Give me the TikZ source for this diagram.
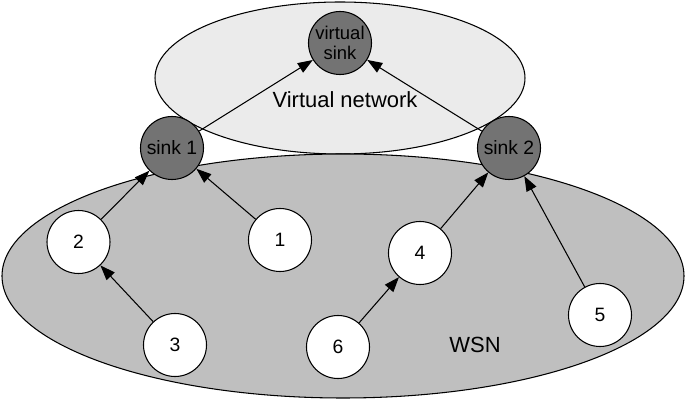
\documentclass[tikz,border=0pt]{standalone}
\usepackage{fontspec}
\setmainfont{Liberation Sans}
\usetikzlibrary{arrows.meta}
\begin{document}
\begin{tikzpicture}[line width=0.6pt,
    sensor/.style={circle,draw,fill=white,minimum size=1.26cm,inner sep=0pt,font=\fontsize{11}{12}\selectfont},
    sink/.style={sensor,fill=black!55,font=\fontsize{11}{11.5}\selectfont},
    link/.style={-{Triangle[length=3mm,width=2.2mm]}}]
    \useasboundingbox (0,0) rectangle (13.7,8.02);
    \filldraw[fill=black!8] (6.80,6.46) ellipse [x radius=3.70cm, y radius=1.52cm];
    \filldraw[fill=black!25] (6.86,2.50) ellipse [x radius=6.82cm, y radius=2.44cm];
    \node[font=\fontsize{12.5}{14}\selectfont] (vnet) at (6.90,6.02) {Virtual network};
    \node[font=\fontsize{12.5}{14}\selectfont] (wsn) at (9.50,1.12) {WSN};

    \node[sink,align=center,font=\fontsize{10.5}{11.5}\selectfont] (V) at (6.80,7.16) {virtual\\sink};
    \node[sink] (S1) at (3.44,5.06) {sink 1};
    \node[sink] (S2) at (10.18,5.06) {sink 2};
    \node[sensor] (N1) at (5.60,3.22) {1};
    \node[sensor] (N2) at (1.57,3.18) {2};
    \node[sensor] (N3) at (3.50,1.12) {3};
    \node[sensor] (N4) at (8.40,2.96) {4};
    \node[sensor] (N5) at (12.00,1.72) {5};
    \node[sensor] (N6) at (6.76,1.08) {6};

    \draw[link] (S1) -- (V);
    \draw[link] (S2) -- (V);
    \draw[link] (N2) -- (S1);
    \draw[link] (N1) -- (S1);
    \draw[link] (N3) -- (N2);
    \draw[link] (N4) -- (S2);
    \draw[link] (N5) -- (S2);
    \draw[link] (N6) -- (N4);
\end{tikzpicture}
\end{document}
